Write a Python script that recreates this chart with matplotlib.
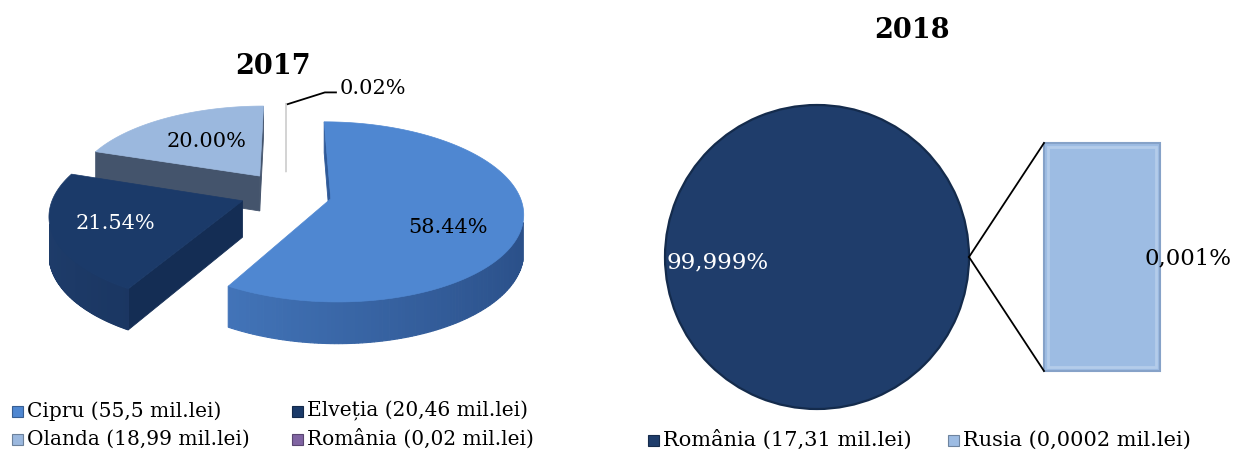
import numpy as np
import matplotlib
matplotlib.use("Agg")
import matplotlib.pyplot as plt
from matplotlib.patches import Polygon, Rectangle, Wedge, Arc
import matplotlib.colors as mcolors

# ---------------- data ----------------
title_2017 = "2017"
labels_2017 = ["Cipru", "Elveția", "Olanda", "România"]
values_2017 = [55.5, 20.46, 18.99, 0.02]          # mil. lei

title_2018 = "2018"
labels_2018 = ["România", "Rusia"]
values_2018 = [17.31, 0.0002]                      # mil. lei
secondary_2018 = [1]                               # index of the value shown in the bar

# ---------------- style ----------------
FONT = ["DejaVu Serif"]
top_colors = ["#4F87D1", "#1B3A69", "#9BB8DE", "#F4F4F4"]
cut_colors = ["#2F5A99", "#142D54", "#44546C", "#FFFFFF"]
outer_light = ["#4A80C8", "#1E3C6A", "#8FAAD0", "#FFFFFF"]
outer_dark = ["#2A4F88", "#10254A", "#5E7BA6", "#FFFFFF"]
legend_colors_2017 = ["#4F87D1", "#1B3A69", "#9BB8DE", "#8064A2"]
pie18_color = "#1F3D6B"
bar18_color = "#9DBCE3"
legend_colors_2018 = [pie18_color, bar18_color]

W, Hh = 1235, 451
fig = plt.figure(figsize=(W / 100, Hh / 100), dpi=100)
ax = fig.add_axes([0, 0, 1, 1])
ax.set_xlim(0, W)
ax.set_ylim(Hh, 0)
ax.axis("off")

# ---------------- 2017 : exploded 3-D pie ----------------
CX, CY = 286, 193
R = 188.0
EXPL = 46.0
DEPTH = 36.0
A_T, B_T = 0.47, 0.07
K_P = 0.15
CAM = np.array([0.0, -5 * R])


def proj(X, Y, z=0.0):
    X = np.asarray(X, float)
    Y = np.asarray(Y, float)
    f = 1 - K_P * Y / R
    return CX + X * f, CY - (A_T * Y - B_T * Y * Y / R) + z * DEPTH * f


def poly(xs, ys, color, z, lw=0.6, ec=None):
    p = Polygon(np.column_stack([xs, ys]), closed=True, facecolor=color,
                edgecolor=ec if ec is not None else color, linewidth=lw, zorder=z)
    ax.add_patch(p)


total17 = sum(values_2017)
fracs17 = [v / total17 for v in values_2017]
cum = np.concatenate([[0], np.cumsum(fracs17)])

slices = []
for i, fr in enumerate(fracs17):
    a0, a1 = 360 * cum[i], 360 * cum[i + 1]
    th0, th1 = np.radians(90 - a0), np.radians(90 - a1)
    thm = 0.5 * (th0 + th1)
    ox, oy = EXPL * np.cos(thm), EXPL * np.sin(thm)
    slices.append(dict(i=i, th0=th0, th1=th1, thm=thm, ox=ox, oy=oy))

order = sorted(slices, key=lambda s: -s["oy"])
z = 2
for s in order:
    i = s["i"]
    ox, oy = s["ox"], s["oy"]
    P = np.array([ox, oy])
    th = np.linspace(s["th0"], s["th1"], 200)
    AX = ox + R * np.cos(th)
    AY = oy + R * np.sin(th)
    tiny = fracs17[i] < 0.01
    if not tiny:
        # cut faces
        for th_e, sign in ((s["th0"], 1), (s["th1"], -1)):
            n = np.array([np.cos(th_e + sign * np.pi / 2), np.sin(th_e + sign * np.pi / 2)])
            if np.dot(n, CAM - P) > 0:
                ex, ey = ox + R * np.cos(th_e), oy + R * np.sin(th_e)
                x0t, y0t = proj(ox, oy, 0)
                x1t, y1t = proj(ex, ey, 0)
                x1b, y1b = proj(ex, ey, 1)
                x0b, y0b = proj(ox, oy, 1)
                poly([x0t, x1t, x1b, x0b], [y0t, y1t, y1b, y0b], cut_colors[i], z)
        # outer curved face
        vis = np.array([np.dot([np.cos(t), np.sin(t)], CAM - np.array([x, y])) > 0
                        for t, x, y in zip(th, AX, AY)])
        c_l = np.array(mcolors.to_rgb(outer_light[i]))
        c_d = np.array(mcolors.to_rgb(outer_dark[i]))
        for k in range(len(th) - 1):
            if vis[k] and vis[k + 1]:
                xt, yt = proj(AX[k:k + 2], AY[k:k + 2], 0)
                xb, yb = proj(AX[k:k + 2], AY[k:k + 2], 1)
                w = (np.cos(th[k]) + 1) / 2
                col = c_l * (1 - w) + c_d * w
                poly([xt[0], xt[1], xb[1], xb[0]], [yt[0], yt[1], yb[1], yb[0]],
                     col, z, lw=0.8)
    # top face
    tx, ty = proj(np.concatenate([[ox], AX]), np.concatenate([[oy], AY]), 0)
    if tiny:
        poly(tx, ty, top_colors[i], z + 0.5, lw=1.0, ec="#D4D4D4")
    else:
        poly(tx, ty, top_colors[i], z + 0.5, lw=0.5)
    z += 1

# data labels
label_r = [0.62, 0.68, 0.55]
label_dy = [14, 0, 0]
label_col = ["#000000", "#FFFFFF", "#000000"]
for s in slices:
    i = s["i"]
    txt = "{:.2f}%".format(100 * fracs17[i])
    if fracs17[i] >= 0.01:
        r = label_r[i] * R
        lx, ly = proj(s["ox"] + r * np.cos(s["thm"]), s["oy"] + r * np.sin(s["thm"]))
        ax.text(lx, ly + label_dy[i], txt, ha="center", va="center",
                fontsize=15, color=label_col[i], family=FONT, zorder=20)
    else:
        px, py = proj(s["ox"] + R * np.cos(s["thm"]), s["oy"] + R * np.sin(s["thm"]))
        ax.plot([px + 1, px + 39, px + 51], [py + 1, py - 11, py - 11],
                color="black", lw=1.3, zorder=20, solid_capstyle="butt")
        ax.text(px + 54, py - 15, txt, ha="left", va="center",
                fontsize=15, color="black", family=FONT, zorder=20)

ax.text(273, 66, title_2017, ha="center", va="center", fontsize=19.5,
        fontweight="bold", family=FONT)

# legend 2017
leg_pos = [(12, 411), (292, 411), (12, 439), (292, 439)]
for (lx, ly), lab, val, col in zip(leg_pos, labels_2017, values_2017, legend_colors_2017):
    ax.add_patch(Rectangle((lx, ly - 5.5), 11, 11, facecolor=col,
                           edgecolor=mcolors.to_hex(np.array(mcolors.to_rgb(col)) * 0.7),
                           lw=0.8, zorder=5))
    ax.text(lx + 15, ly, "{} ({} mil.lei)".format(lab, str(val).replace(".", ",")),
            ha="left", va="center", fontsize=14.5, family=FONT)

# ---------------- 2018 : pie of bar ----------------
PCX, PCY, PR = 817, 257, 152
total18 = sum(values_2018)
fr18 = [v / total18 for v in values_2018]
sec_frac = sum(fr18[j] for j in secondary_2018)
half = 360 * sec_frac / 2
ax.add_patch(Wedge((PCX, PCY), PR, half, 360 - half, facecolor=pie18_color,
                   edgecolor="none", zorder=3))
ax.add_patch(Arc((PCX, PCY), 2 * PR, 2 * PR, theta1=half, theta2=360 - half,
                 edgecolor="#142B4C", lw=1.6, zorder=3.5))

BX0, BX1, BY0, BY1 = 1044, 1160, 143, 371
ycur = BY1
for j in secondary_2018:
    hgt = (BY1 - BY0) * fr18[j] / sec_frac
    ax.add_patch(Rectangle((BX0, ycur - hgt), BX1 - BX0, hgt, facecolor=bar18_color,
                           edgecolor="#86A2C8", lw=1.5, zorder=3))
    ax.add_patch(Rectangle((BX0 + 4, ycur - hgt + 4), BX1 - BX0 - 8, hgt - 8,
                           facecolor="none", edgecolor="#B4CCEA", lw=2, zorder=3.2))
    ycur -= hgt

pxt = PCX + PR * np.cos(np.radians(half))
pyt = PCY - PR * np.sin(np.radians(half))
ax.plot([pxt, BX0], [pyt, BY0], color="black", lw=1.3, zorder=4)
ax.plot([pxt, BX0], [2 * PCY - pyt, BY1], color="black", lw=1.3, zorder=4)

ax.text(PCX - PR + 2, PCY + 5, "{:.3f}%".format(100 * fr18[0]).replace(".", ","),
        ha="left", va="center", fontsize=16.5, color="white", family=FONT, zorder=6)
ax.text(BX1 - 15, (BY0 + BY1) / 2 + 1, "{:.3f}%".format(100 * fr18[1]).replace(".", ","),
        ha="left", va="center", fontsize=16.5, color="black", family=FONT, zorder=6)

ax.text(912, 31, title_2018, ha="center", va="center", fontsize=19.5,
        fontweight="bold", family=FONT)

leg18 = [(648, 440), (948, 440)]
for (lx, ly), lab, val, col in zip(leg18, labels_2018, values_2018, legend_colors_2018):
    ax.add_patch(Rectangle((lx, ly - 5.5), 11, 11, facecolor=col,
                           edgecolor=mcolors.to_hex(np.array(mcolors.to_rgb(col)) * 0.7),
                           lw=0.8, zorder=5))
    ax.text(lx + 15, ly, "{} ({} mil.lei)".format(lab, str(val).replace(".", ",")),
            ha="left", va="center", fontsize=15, family=FONT)

fig.savefig("out.png", dpi=100)
